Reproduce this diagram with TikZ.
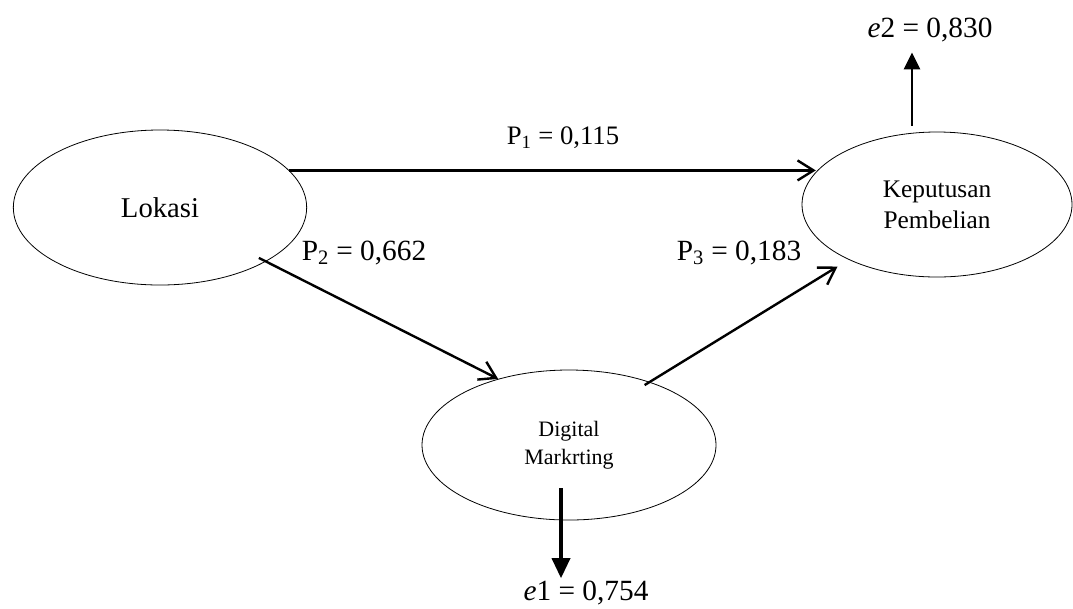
\documentclass[tikz,border=0pt]{standalone}
\usepackage{fontspec}
\setmainfont{Liberation Serif}
\usetikzlibrary{arrows.meta,shapes.geometric,calc}

\begin{document}
\begin{tikzpicture}[x=0.75pt,y=-0.75pt,
  ell/.style={ellipse, draw, line width=0.6pt, inner sep=0pt, align=center},
  pathline/.style={line width=1.8pt, -{Straight Barb[length=12pt,width=15pt,line width=1.8pt]}},
  lbl/.style={anchor=base, inner sep=0pt},
  big/.style={font=\fontsize{22}{26}\selectfont},
  mid/.style={font=\fontsize{20}{24}\selectfont}
]
\useasboundingbox (0,0) rectangle (1073,608);

\node[ell, minimum width=220pt, minimum height=116.25pt, font=\fontsize{21.5}{26}\selectfont] (lok) at (160,207.5) {Lokasi};
\node[ell, minimum width=202.5pt, minimum height=108.75pt, font=\fontsize{19}{23.5}\selectfont] (kp) at (937,204.5) {Keputusan\\Pembelian};
\node[ell, minimum width=220.5pt, minimum height=112.5pt, font=\fontsize{16.5}{21}\selectfont] (dm) at (569,445) {Digital\\Markrting};

\node[lbl, mid] (p1) at (563,144) {P\textsubscript{1} = 0,115};
\node[lbl, big] (p2) at (364,260) {P\textsubscript{2} = 0,662};
\node[lbl, big] (p3) at (739,260) {P\textsubscript{3} = 0,183};
\node[lbl, big] (e2) at (930,37) {\textit{e}2 = 0,830};
\node[lbl, big] (e1) at (586,600) {\textit{e}1 = 0,754};

\draw[pathline] (lok.16) -- (lok.16 -| kp.165);
\draw[pathline, shorten <=-6pt] (lok.-27) -- (dm.137);
\draw[pathline, shorten <=-4.5pt, shorten >=9.75pt] (dm.38) -- (kp.212);

\coordinate (s2) at ($(kp.north)+(-25,-6)$);
\draw[line width=2.2pt, -{Triangle[length=12.75pt,width=12pt]}, shorten >=8pt] (s2) -- (s2 |- e2.south);
\coordinate (s1) at ($(dm.center)+(-8,43)$);
\draw[line width=2.6pt, -{Triangle[length=15pt,width=13.5pt]}, shorten >=1.5pt] (s1) -- (s1 |- e1.north);
\end{tikzpicture}
\end{document}
